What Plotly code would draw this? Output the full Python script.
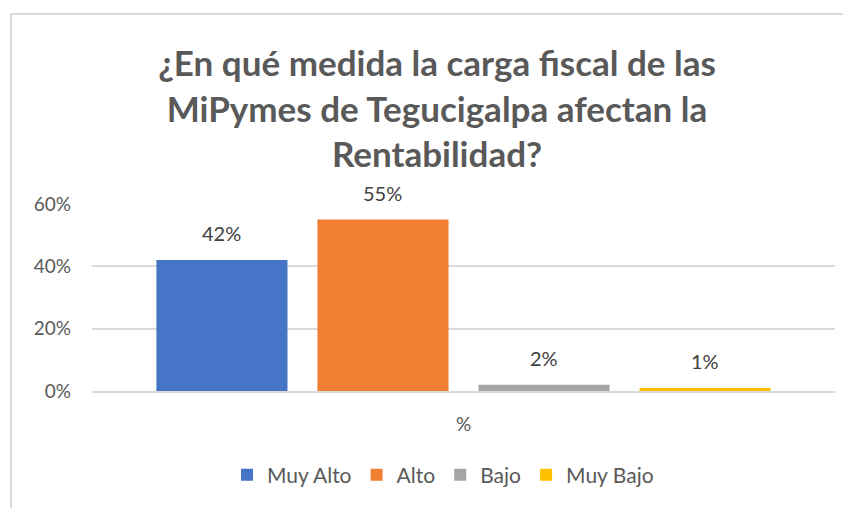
import plotly.graph_objects as go

categories = ["%"]
series_names = ["Muy Alto", "Alto", "Bajo", "Muy Bajo"]
series_values = [0.42, 0.55, 0.02, 0.01]
series_colors = ["#4674C6", "#F07F34", "#A5A5A5", "#FFC000"]
tick_vals = [0, 0.2, 0.4, 0.6]
tick_text = ["0%", "20%", "40%", "60%"]
title_text = "¿En qué medida la carga fiscal de las<br>MiPymes de Tegucigalpa afectan la<br>Rentabilidad?"

W, H = 851, 508
OFF = 8  # page body margin offset
L, R, T, B = 92 - OFF, 16 + OFF, 204 - OFF, 117 + OFF
BARGAP, GROUPGAP = 0.133, 0.186

fig = go.Figure()
for name, val, col in zip(series_names, series_values, series_colors):
    fig.add_trace(go.Bar(
        x=categories, y=[val], name=name,
        marker=dict(color=col, line=dict(width=0)),
        hoverinfo="y",
    ))

plot_w = W - L - R
plot_h = H - T - B
pitch = plot_w * (1 - BARGAP) / len(series_names)
annotations = []
for i, val in enumerate(series_values):
    annotations.append(dict(
        x=categories[0], y=val, xref="x", yref="y", text=f"{round(val*100)}%",
        showarrow=False, xanchor="center", yanchor="bottom",
        xshift=(i - (len(series_values) - 1) / 2) * pitch, yshift=13,
        font=dict(family="Lato", size=20, color="#404040"),
    ))

def px_x(p):
    return (p - OFF - L) / plot_w
def px_y(p):
    return (H - B - (p - OFF)) / plot_h

border = "#D9D9D9"
shapes = [
    dict(type="line", xref="paper", yref="paper", x0=px_x(11), x1=px_x(11), y0=px_y(14), y1=px_y(H + 20), line=dict(color=border, width=2)),
    dict(type="line", xref="paper", yref="paper", x0=px_x(11), x1=px_x(W + 20), y0=px_y(14), y1=px_y(14), line=dict(color=border, width=2)),
]

fig.update_layout(
    width=W, height=H,
    margin=dict(l=L, r=R, t=T, b=B, autoexpand=False),
    paper_bgcolor="white", plot_bgcolor="white",
    barmode="group", bargap=BARGAP, bargroupgap=GROUPGAP,
    title=dict(text=title_text, font=dict(family="Lato", size=35, color="#595959", weight="bold"),
               xref="container", yref="container", x=(437 - OFF) / W, y=1 - (76 - OFF) / H,
               xanchor="center", yanchor="middle"),
    legend=dict(orientation="h", xref="container", yref="container", x=(443 - OFF) / W, y=1 - (475 - OFF) / H,
                xanchor="center", yanchor="middle", font=dict(family="Lato", size=21, color="#595959"),
                itemwidth=30, tracegroupgap=0),
    annotations=annotations,
    shapes=shapes,
    showlegend=True,
)
fig.update_yaxes(range=[0, 0.6], tickvals=tick_vals, ticktext=tick_text, showgrid=True,
                 gridcolor=border, gridwidth=2, zeroline=False, showline=False, ticks="",
                 ticklabelstandoff=20, tickfont=dict(family="Lato", size=19, color="#595959"))
fig.update_xaxes(showline=True, linecolor=border, linewidth=2, ticks="", ticklabelstandoff=15,
                 tickfont=dict(family="Lato", size=19, color="#595959"))

fig.write_html("out.html")
